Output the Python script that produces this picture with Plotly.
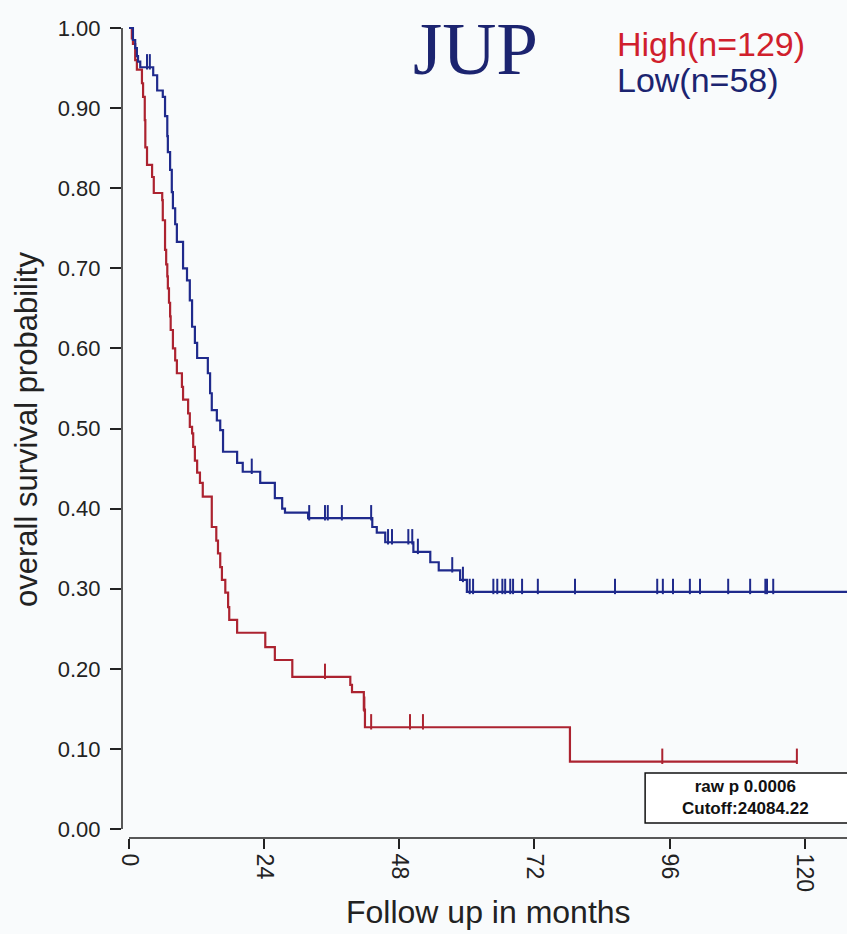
import numpy as np
import plotly.graph_objects as go

# ---- data ----
high_time = [0, 0.5, 0.7, 1.1, 1.4, 2.3, 2.5, 2.8, 2.9, 3.2, 4.1, 4.4, 5.9, 6.0, 6.4, 6.6, 6.8, 6.9, 7.1, 7.3,
             7.4, 7.8, 8.2, 8.5, 9.4, 9.6, 10.5, 10.8, 11.2, 11.4, 11.7, 12.1, 12.6, 13.1, 14.7, 15.5, 15.8, 16.2,
             16.5, 17.1, 17.6, 17.8, 19.2, 24.2, 25.9, 29.0, 39.3, 39.6, 41.7, 41.9, 78.3]
high_surv = [1.0, 0.987, 0.98, 0.96, 0.948, 0.931, 0.914, 0.885, 0.851, 0.829, 0.814, 0.794, 0.785, 0.76, 0.723,
             0.705, 0.69, 0.675, 0.657, 0.64, 0.623, 0.60, 0.585, 0.569, 0.552, 0.536, 0.519, 0.502, 0.494, 0.477,
             0.46, 0.445, 0.432, 0.415, 0.377, 0.36, 0.344, 0.327, 0.311, 0.295, 0.277, 0.261, 0.245, 0.227, 0.211,
             0.19, 0.18, 0.171, 0.149, 0.127, 0.084]
high_end = 118.6
high_censor = [34.8, 41.8, 43.0, 49.9, 52.2, 94.7, 118.6]

low_time = [0, 0.7, 1.1, 1.4, 1.6, 2.0, 4.3, 5.0, 6.0, 6.4, 6.8, 6.9, 7.3, 7.6, 7.8, 8.2, 8.5, 9.6, 10.3, 10.8,
            11.2, 11.7, 12.1, 14.0, 14.4, 14.7, 15.6, 16.2, 16.7, 19.2, 20.2, 23.3, 25.9, 27.2, 27.7, 31.8, 43.2,
            44.0, 45.5, 50.5, 53.5, 55.0, 58.8, 60.0]
low_surv = [1.0, 0.985, 0.975, 0.965, 0.958, 0.951, 0.941, 0.922, 0.914, 0.89, 0.865, 0.845, 0.823, 0.795, 0.775,
            0.755, 0.733, 0.70, 0.685, 0.66, 0.627, 0.607, 0.588, 0.569, 0.544, 0.523, 0.51, 0.498, 0.471, 0.457,
            0.446, 0.432, 0.413, 0.40, 0.395, 0.388, 0.377, 0.37, 0.358, 0.346, 0.333, 0.323, 0.311, 0.296]
low_end = 130
low_censor = [3.2, 3.7, 21.8, 32.0, 34.8, 35.3, 37.8, 43.0, 46.0, 46.7, 49.6, 50.3, 51.3, 57.4, 59.3, 60.5, 61.1,
              64.7, 65.4, 66.3, 66.8, 67.7, 68.2, 69.8, 72.6, 79.2, 86.3, 93.8, 94.8, 96.6, 99.6, 101.4, 106.4,
              110.3, 113.0, 113.3, 114.4]

x_ticks = [0, 24, 48, 72, 96, 120]
y_ticks = [0.0, 0.1, 0.2, 0.3, 0.4, 0.5, 0.6, 0.7, 0.8, 0.9, 1.0]

title_text = "JUP"
high_label = "High(n=129)"
low_label = "Low(n=58)"
stats_text = "<b>raw p 0.0006</b><br><b>Cutoff:24084.22</b>"

RED = "#ac2330"
BLUE = "#1f2a8c"
RED_TXT = "#d01f2d"
NAVY = "#1c2470"

X_RANGE = [-1.243, 127.5]
Y_RANGE = [-0.01124, 1.01249]


def surv_at(times, surv, t):
    idx = np.searchsorted(np.asarray(times), np.asarray(t), side="right") - 1
    return np.asarray(surv)[idx]


fig = go.Figure()

for times, surv, end, cens, col in [(high_time, high_surv, high_end, high_censor, RED),
                                    (low_time, low_surv, low_end, low_censor, BLUE)]:
    xs = list(times) + [end]
    ys = list(surv) + [surv[-1]]
    fig.add_trace(go.Scatter(x=xs, y=ys, mode="lines", line=dict(color=col, width=2.2, shape="hv"),
                             hoverinfo="skip", showlegend=False))
    cy = surv_at(times, surv, cens) + 0.0068
    fig.add_trace(go.Scatter(x=cens, y=cy, mode="markers",
                             marker=dict(symbol="line-ns-open", size=11, color=col, line=dict(color=col, width=2)),
                             hoverinfo="skip", showlegend=False))

axis_col = "#222222"
fig.update_layout(
    width=847, height=934,
    margin=dict(l=122, r=0, t=18, b=96),
    paper_bgcolor="#f9fbfc", plot_bgcolor="#f9fbfc",
    xaxis=dict(range=X_RANGE, tickvals=x_ticks, ticktext=[str(v) for v in x_ticks], ticks="outside",
               ticklen=10, tickwidth=1.5, tickcolor=axis_col, tickangle=90, showgrid=False, zeroline=False,
               showline=False, tickfont=dict(family="Liberation Sans, Arial", size=23, color=axis_col)),
    yaxis=dict(range=Y_RANGE, tickvals=y_ticks, ticktext=[f"{v:.2f}" for v in y_ticks], ticks="outside",
               ticklen=11, tickwidth=1.5, tickcolor=axis_col, showgrid=False, zeroline=False, showline=False,
               ticklabelstandoff=5,
               tickfont=dict(family="Liberation Sans, Arial", size=22, color=axis_col)),
    shapes=[
        dict(type="line", xref="paper", yref="y", x0=0, x1=0, y0=0, y1=1, line=dict(color=axis_col, width=1.5)),
        dict(type="line", xref="x", yref="paper", x0=0, x1=X_RANGE[1], y0=0, y1=0,
             line=dict(color=axis_col, width=1.5)),
        dict(type="rect", xref="x", yref="y", x0=91.65, x1=140, y0=0.0075, y1=0.07,
             line=dict(color="#111111", width=1.5), fillcolor="white"),
    ],
    annotations=[
        dict(text=title_text, xref="paper", yref="paper", x=0.487, y=0.963, xanchor="center", yanchor="middle",
             showarrow=False, font=dict(family="Liberation Serif, Times New Roman", size=75, color=NAVY)),
        dict(text=high_label, xref="paper", yref="paper", x=0.68, y=0.9683, xanchor="left", yanchor="middle",
             showarrow=False, font=dict(family="Liberation Sans, Arial", size=34, color=RED_TXT)),
        dict(text=low_label, xref="paper", yref="paper", x=0.68, y=0.9244, xanchor="left", yanchor="middle",
             showarrow=False, font=dict(family="Liberation Sans, Arial", size=34, color=NAVY)),
        dict(text=stats_text, xref="x", yref="y", x=109.4, y=0.0388, xanchor="center", yanchor="middle",
             showarrow=False, font=dict(family="Liberation Sans, Arial", size=17, color="#111111")),
        dict(text="overall survival probability", xref="paper", yref="paper", x=-0.131, y=0.4976,
             xanchor="center", yanchor="middle", textangle=-90, showarrow=False,
             font=dict(family="Liberation Sans, Arial", size=31, color=axis_col)),
        dict(text="Follow up in months", xref="paper", yref="paper", x=0.505, y=-0.09,
             xanchor="center", yanchor="middle", showarrow=False,
             font=dict(family="Liberation Sans, Arial", size=32, color=axis_col)),
    ],
)

fig.write_html("out.html")
